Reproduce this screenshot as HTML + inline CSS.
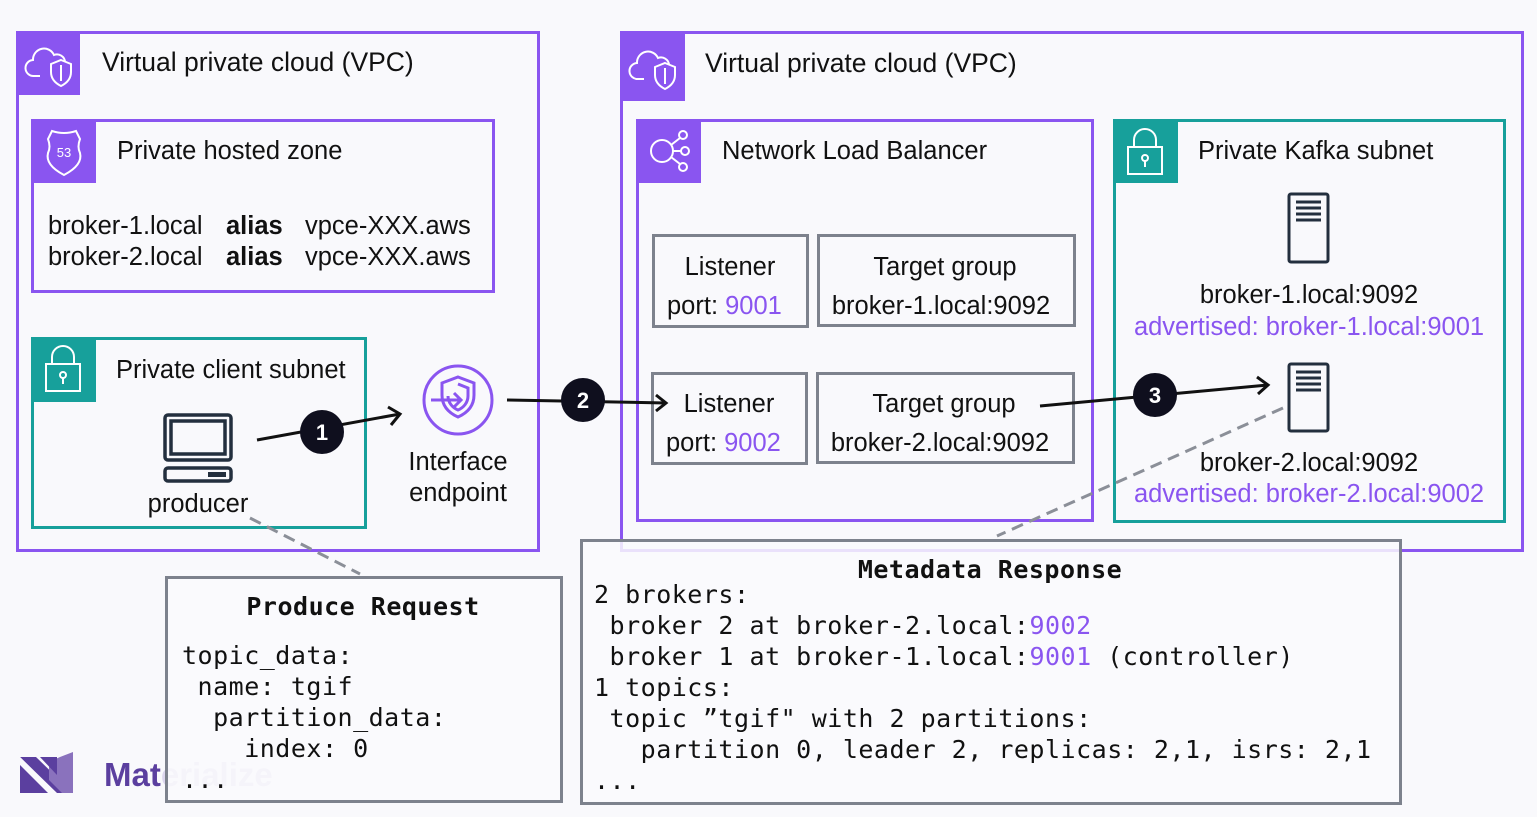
<!DOCTYPE html>
<html><head><meta charset="utf-8"><style>
html,body{margin:0;padding:0;background:#f9f9fc;}
svg{display:block}
.s{font-family:"Liberation Sans",sans-serif;fill:#111;}
.m{font-family:"DejaVu Sans Mono","Liberation Mono",monospace;fill:#111;font-size:25px;letter-spacing:0.5px;}
.p{fill:#8a55f0}
</style></head><body>
<svg width="1537" height="817" viewBox="0 0 1537 817" xmlns="http://www.w3.org/2000/svg">
<rect width="1537" height="817" fill="#f9f9fc"/>
<g>
<polygon points="20,757 36,757 73,793 57,793" fill="#5b3f9f"/>
<polygon points="20,765 48,793 20,793" fill="#5b3f9f"/>
<polygon points="20,757 20,762 51,793 56,793" fill="#f9f9fc"/>
<polygon points="49,762 60,757 73,752 73,793 62,793 49,780" fill="#8a72bd"/>
<polygon points="40,757 57,757 57,775" fill="#5b3f9f"/>
<text x="104" y="786" font-family="Liberation Sans,sans-serif" font-weight="bold" font-size="33" fill="#5b3f9f">Mat<tspan fill="#dcd6ee">erialize</tspan></text>
</g>

<rect x="17.5" y="32.5" width="521" height="518" fill="none" stroke="#8a55f0" stroke-width="3"/>
<rect x="16" y="31" width="64" height="64" fill="#8a55f0"/>
<g fill="none" stroke="#fff" stroke-width="2">
<path d="M40,76 h-6 a8,8 0 0 1 -1,-16 a11,11 0 0 1 21,-5 a8,8 0 0 1 11,7"/>
<path d="M61,60 l10,4 v8 c0,7 -4,11 -10,14 c-6,-3 -10,-7 -10,-14 v-8z"/>
<path d="M61,65 v16"/>
</g>
<text class="s" x="102" y="71" font-size="26.5">Virtual private cloud (VPC)</text>

<rect x="32.5" y="120.5" width="461" height="171" fill="none" stroke="#8a55f0" stroke-width="3"/>
<rect x="31" y="119" width="65" height="64" fill="#8a55f0"/>
<path d="M52,131 q12,4 24,0 l4,8 q-3,8 0,14 q3,12 -16,22 q-19,-10 -16,-22 q3,-6 0,-14z" fill="none" stroke="#fff" stroke-width="2"/>
<text x="64" y="157" font-family="Liberation Sans,sans-serif" font-size="13" fill="#fff" text-anchor="middle">53</text>
<text class="s" x="117" y="159" font-size="25.5">Private hosted zone</text>
<text class="s" x="48" y="234" font-size="25.5">broker-1.local</text>
<text class="s" x="226" y="234" font-size="25.5" font-weight="bold">alias</text>
<text class="s" x="305" y="234" font-size="25.5">vpce-XXX.aws</text>
<text class="s" x="48" y="265" font-size="25.5">broker-2.local</text>
<text class="s" x="226" y="265" font-size="25.5" font-weight="bold">alias</text>
<text class="s" x="305" y="265" font-size="25.5">vpce-XXX.aws</text>

<rect x="32.5" y="338.5" width="333" height="189" fill="none" stroke="#17a09b" stroke-width="3"/>
<rect x="31" y="337" width="65" height="65" fill="#17a09b"/>
<g fill="none" stroke="#fff" stroke-width="2">
<rect x="46" y="364" width="34" height="27"/>
<path d="M52,364 v-7 a11,11 0 0 1 22,0 v7"/>
<circle cx="63" cy="375" r="3"/><path d="M63,378 v6"/>
</g>
<text class="s" x="116" y="378" font-size="25.5">Private client subnet</text>
<g fill="none" stroke="#232f3e" stroke-width="3.5">
<rect x="165" y="415" width="66" height="45" rx="3"/>
<rect x="171" y="421" width="54" height="33"/>
<rect x="165" y="468" width="66" height="13" rx="3"/>
</g>
<rect x="208" y="472" width="18" height="5" fill="#232f3e"/>
<text class="s" x="198" y="512" font-size="25.5" text-anchor="middle">producer</text>

<g fill="none" stroke="#8a55f0" stroke-width="3">
<circle cx="458" cy="400" r="34"/>
<path d="M458,377 l16,6 v12 c0,11 -7,18 -16,22 c-9,-4 -16,-11 -16,-22 v-12z"/>
<path d="M458,384 l10,4 v8 c0,7 -5,12 -10,14 c-5,-2 -10,-7 -10,-14"/>
<path d="M431,400 h29 M454,393 l7,7 -7,7"/>
</g>
<text class="s" x="458" y="470" font-size="25.5" text-anchor="middle">Interface</text>
<text class="s" x="458" y="501" font-size="25.5" text-anchor="middle">endpoint</text>

<rect x="621.5" y="32.5" width="901" height="518" fill="none" stroke="#8a55f0" stroke-width="3"/>
<rect x="620" y="31" width="65" height="70" fill="#8a55f0"/>
<g fill="none" stroke="#fff" stroke-width="2">
<path d="M644,79 h-6 a8,8 0 0 1 -1,-16 a11,11 0 0 1 21,-5 a8,8 0 0 1 11,7"/>
<path d="M665,63 l10,4 v8 c0,7 -4,11 -10,14 c-6,-3 -10,-7 -10,-14 v-8z"/>
<path d="M665,68 v16"/>
</g>
<text class="s" x="705" y="72" font-size="26.5">Virtual private cloud (VPC)</text>

<rect x="637.5" y="120.5" width="455" height="400" fill="none" stroke="#8a55f0" stroke-width="3"/>
<rect x="636" y="119" width="65" height="64" fill="#8a55f0"/>
<g fill="none" stroke="#fff" stroke-width="2">
<circle cx="662" cy="151" r="11"/>
<circle cx="683" cy="135" r="4"/><circle cx="685" cy="151" r="4"/><circle cx="683" cy="167" r="4"/>
<path d="M671,145 l9,-7 M673,151 h8 M671,157 l9,7"/>
</g>
<text class="s" x="722" y="159" font-size="25.5">Network Load Balancer</text>

<g fill="none" stroke="#7d828d" stroke-width="3">
<rect x="653.5" y="235.5" width="154" height="91"/>
<rect x="818.5" y="235.5" width="256" height="90"/>
<rect x="652.5" y="373.5" width="154" height="90"/>
<rect x="817.5" y="373.5" width="256" height="89"/>
</g>
<text class="s" x="730" y="275" font-size="25.5" text-anchor="middle">Listener</text>
<text class="s" x="667" y="314" font-size="25.5">port: <tspan class="p">9001</tspan></text>
<text class="s" x="945" y="275" font-size="25.5" text-anchor="middle">Target group</text>
<text class="s" x="941" y="314" font-size="25.5" text-anchor="middle">broker-1.local:9092</text>
<text class="s" x="729" y="412" font-size="25.5" text-anchor="middle">Listener</text>
<text class="s" x="666" y="451" font-size="25.5">port: <tspan class="p">9002</tspan></text>
<text class="s" x="944" y="412" font-size="25.5" text-anchor="middle">Target group</text>
<text class="s" x="940" y="451" font-size="25.5" text-anchor="middle">broker-2.local:9092</text>

<rect x="1114.5" y="120.5" width="390" height="401" fill="none" stroke="#17a09b" stroke-width="3"/>
<rect x="1113" y="119" width="65" height="64" fill="#17a09b"/>
<g fill="none" stroke="#fff" stroke-width="2">
<rect x="1128" y="147" width="34" height="27"/>
<path d="M1134,147 v-7 a11,11 0 0 1 22,0 v7"/>
<circle cx="1145" cy="158" r="3"/><path d="M1145,161 v6"/>
</g>
<text class="s" x="1198" y="159" font-size="25.5">Private Kafka subnet</text>
<g fill="none" stroke="#232f3e" stroke-width="3">
<rect x="1289" y="194" width="39" height="68" rx="2"/>
<rect x="1289" y="364" width="39" height="67" rx="2"/>
<path d="M1296,202 h25 M1296,208 h25 M1296,214 h25 M1296,220 h25"/>
<path d="M1296,372 h25 M1296,378 h25 M1296,384 h25 M1296,390 h25"/>
</g>
<text class="s" x="1309" y="303" font-size="25.5" text-anchor="middle">broker-1.local:9092</text>
<text class="s p" x="1309" y="335" font-size="25.5" text-anchor="middle">advertised: broker-1.local:9001</text>
<text class="s" x="1309" y="471" font-size="25.5" text-anchor="middle">broker-2.local:9092</text>
<text class="s p" x="1309" y="502" font-size="25.5" text-anchor="middle">advertised: broker-2.local:9002</text>

<g stroke="#8b8f98" stroke-width="3" stroke-dasharray="12,7" fill="none">
<path d="M250,518 L360,574"/>
<path d="M1283,408 L997,536"/>
</g>

<g stroke="#111" stroke-width="3" fill="none">
<path d="M257,440 L400,414"/><path d="M388,407 L400,414 L391,425"/>
<path d="M507,400 L666,403"/><path d="M656,395 L666,403 L656,411"/>
<path d="M1040,406 L1268,385"/><path d="M1257,377 L1268,385 L1258,394"/>
</g>
<g font-family="Liberation Sans,sans-serif" font-weight="bold" font-size="22" fill="#fff" text-anchor="middle">
<circle cx="322" cy="432" r="22" fill="#0f0f1e"/><text x="322" y="440">1</text>
<circle cx="583" cy="400" r="22" fill="#0f0f1e"/><text x="583" y="408">2</text>
<circle cx="1155" cy="395" r="22" fill="#0f0f1e"/><text x="1155" y="403">3</text>
</g>

<rect x="166.5" y="577.5" width="395" height="224" fill="rgba(250,250,253,0.82)" stroke="#7d828d" stroke-width="3"/>
<text class="m" x="363" y="615" font-weight="bold" text-anchor="middle">Produce Request</text>
<text class="m" x="182" y="664">topic_data:</text>
<text class="m" x="182" y="695" xml:space="preserve"> name: tgif</text>
<text class="m" x="182" y="726" xml:space="preserve">  partition_data:</text>
<text class="m" x="182" y="757" xml:space="preserve">    index: 0</text>
<text class="m" x="182" y="788">...</text>

<rect x="581.5" y="540.5" width="819" height="263" fill="rgba(250,250,253,0.85)" stroke="#7d828d" stroke-width="3"/>
<text class="m" x="990" y="578" font-weight="bold" text-anchor="middle">Metadata Response</text>
<text class="m" x="594" y="603">2 brokers:</text>
<text class="m" x="594" y="634" xml:space="preserve"> broker 2 at broker-2.local:<tspan class="p">9002</tspan></text>
<text class="m" x="594" y="665" xml:space="preserve"> broker 1 at broker-1.local:<tspan class="p">9001</tspan> (controller)</text>
<text class="m" x="594" y="696">1 topics:</text>
<text class="m" x="594" y="727" xml:space="preserve"> topic ”tgif" with 2 partitions:</text>
<text class="m" x="594" y="758" xml:space="preserve">   partition 0, leader 2, replicas: 2,1, isrs: 2,1</text>
<text class="m" x="594" y="789">...</text>
</svg>
</body></html>
